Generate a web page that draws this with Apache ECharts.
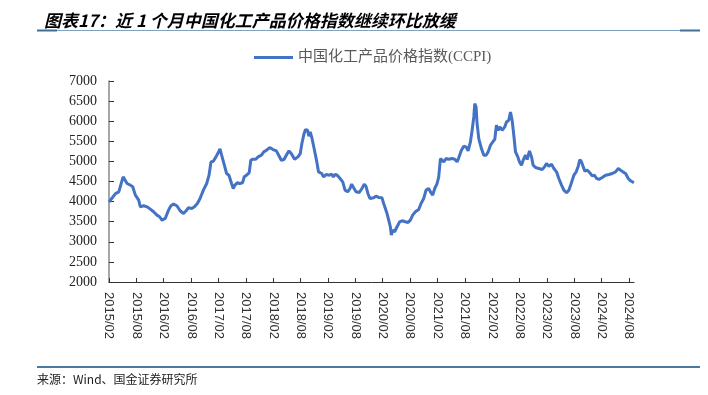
<!DOCTYPE html>
<html>
<head>
<meta charset="utf-8">
<script src="https://cdn.jsdelivr.net/npm/echarts@6/dist/echarts.min.js"></script>
<style>
html,body{margin:0;padding:0;background:#fff;}
#chart{width:708px;height:395px;}
</style>
</head>
<body>
<div id="chart"></div>
<script>
// Months elapsed since 2015/02 (x) and CCPI index values (y)
const monthOffsets = [
  0, 1.42, 2.15, 3.09, 3.96, 4.69, 5.2, 5.78, 6.51, 6.87, 7.6, 8.33, 9.05, 9.78,
  10.51, 11.09, 11.6, 12.33, 12.69, 13.05, 13.56, 14.15, 14.87, 15.6, 16.33, 16.91,
  17.42, 18.15, 18.73, 19.38, 19.96, 20.69, 21.42, 21.93, 22.36, 22.87, 23.45, 23.96,
  24.33, 24.69, 25.2, 25.78, 26.29, 26.87, 27.24, 27.6, 28.11, 28.69, 29.27, 29.64,
  30.15, 30.73, 31.09, 31.6, 32.18, 32.69, 33.42, 33.93, 34.51, 35.24, 35.96, 36.69,
  37.2, 37.78, 38.36, 38.87, 39.45, 39.96, 40.69, 41.42, 41.93, 42.29, 42.73, 43.09,
  43.53, 43.82, 44.11, 44.47, 45.05, 45.56, 45.93, 46.29, 46.65, 47.02, 47.6, 48.33,
  48.84, 49.2, 49.64, 50.15, 50.65, 51.24, 51.75, 52.33, 52.84, 53.2, 53.64, 54.15,
  54.87, 55.45, 55.96, 56.33, 56.76, 57.2, 57.51, 58.02, 58.54, 59.12, 59.85, 60.22,
  60.59, 60.95, 61.32, 61.68, 61.9, 62.19, 62.63, 63.15, 63.73, 64.24, 64.97, 65.56,
  66.07, 66.58, 67.17, 67.9, 68.41, 69.0, 69.51, 70.1, 70.46, 70.97, 71.41, 71.92,
  72.29, 72.66, 73.02, 73.39, 73.9, 74.48, 75.22, 75.8, 76.31, 76.68, 77.26, 77.78,
  78.29, 78.73, 79.24, 79.61, 79.98, 80.19, 80.48, 80.7, 81.07, 81.65, 82.17, 82.68,
  83.12, 83.63, 84.14, 84.58, 84.94, 85.31, 85.68, 86.19, 86.77, 87.14, 87.65, 88.02,
  88.38, 88.75, 89.12, 89.63, 89.99, 90.43, 90.8, 91.31, 91.68, 92.19, 92.63, 92.99,
  93.5, 94.24, 94.97, 95.48, 95.92, 96.43, 97.02, 97.53, 98.11, 98.62, 99.21, 99.72,
  100.31, 100.82, 101.33, 101.92, 102.43, 102.87, 103.24, 103.6, 103.97, 104.33, 104.84,
  105.36, 105.94, 106.45, 106.89, 107.4, 108.13, 108.87, 109.6, 110.33, 111.06, 111.65,
  112.16, 112.67, 113.26, 113.84, 114.35, 115.08
];
const ccpiValues = [
  3990, 4200, 4240, 4616, 4450, 4410, 4370, 4160, 4036, 3870, 3896, 3870, 3813, 3747,
  3664, 3623, 3540, 3581, 3623, 3788, 3896, 3937, 3896, 3772, 3705, 3772,
  3846, 3830, 3870, 3954, 4078, 4285, 4450, 4657, 4988, 5005, 5113, 5220,
  5311, 5154, 4947, 4699, 4657, 4450, 4326, 4409, 4467, 4450, 4467, 4616,
  4657, 4715, 5030, 5055, 5055, 5113, 5154, 5237, 5278, 5344, 5295, 5262,
  5154, 5030, 5047, 5154, 5262, 5196, 5055, 5113, 5196, 5444, 5676, 5792,
  5775, 5626, 5734, 5593, 5278, 4988, 4740, 4782, 4699, 4616, 4674, 4657,
  4682, 4616, 4682, 4641, 4575, 4492, 4285, 4244, 4326, 4434, 4343, 4244,
  4227, 4326, 4434, 4384, 4202, 4078, 4036, 4094, 4136, 4103, 4094, 3954,
  3830, 3705, 3540, 3374, 3167, 3291, 3250, 3374, 3498, 3523, 3498, 3482,
  3540, 3664, 3747, 3805, 3954, 4078, 4285, 4326, 4243, 4161, 4326, 4450,
  4616, 5071, 5113, 4988, 5071, 5055, 5071, 5055, 4988, 5088, 5278, 5377,
  5361, 5262, 5485, 5775, 6106, 6437, 6354, 5940, 5568, 5320, 5154, 5154,
  5237, 5402, 5485, 5551, 5899, 5775, 5858, 5775, 5858, 5982, 6023, 6230,
  6023, 5651, 5237, 5113, 4988, 4906, 5030, 5154, 5047, 5262, 5113, 4906,
  4848, 4823, 4798, 4864, 4947, 4881, 4930, 4823, 4740, 4575, 4409, 4285,
  4219, 4285, 4450, 4657, 4740, 4881, 5047, 4988, 4864, 4757, 4782,
  4724, 4641, 4657, 4575, 4550, 4600, 4657, 4674, 4699, 4740, 4823,
  4782, 4740, 4699, 4575, 4517, 4467
];
const tickLabels = [
  '2015/02','2015/08','2016/02','2016/08','2017/02','2017/08','2018/02','2018/08',
  '2019/02','2019/08','2020/02','2020/08','2021/02','2021/08','2022/02','2022/08',
  '2023/02','2023/08','2024/02','2024/08'
];
const seriesName = '中国化工产品价格指数(CCPI)';
const titleText = '图表17：近 1 个月中国化工产品价格指数继续环比放缓';
const sourceText = '来源：Wind、国金证券研究所';

const tickValues = tickLabels.map((_, i) => i * 6);
const lineData = monthOffsets.map((m, i) => [m, ccpiValues[i]]);

const chart = echarts.init(document.getElementById('chart'), null, {renderer: 'canvas'});
chart.setOption({
  animation: false,
  backgroundColor: '#fff',
  title: {
    text: titleText,
    left: 39, top: 7,
    textStyle: {
      fontFamily: '"Noto Sans CJK SC", sans-serif',
      fontSize: 17, fontWeight: 'bold', fontStyle: 'italic', color: '#000'
    }
  },
  legend: {
    left: 249, top: 45,
    icon: 'rect', itemWidth: 39, itemHeight: 3, itemGap: 10,
    textStyle: {
      fontFamily: '"Liberation Serif", "Noto Sans CJK SC", serif',
      fontSize: 15, color: '#595959'
    },
    data: [seriesName]
  },
  grid: {left: 109, top: 81, right: 74, bottom: 113},
  xAxis: {
    type: 'value', min: 0, max: 115.1,
    axisLine: {show: true, lineStyle: {color: '#333', width: 1}},
    axisTick: {show: true, inside: true, length: 4, customValues: tickValues, lineStyle: {color: '#333'}},
    axisLabel: {
      customValues: tickValues, rotate: -90, margin: 10,
      fontFamily: '"Liberation Sans", Arial, sans-serif', fontSize: 13, color: '#333',
      formatter: v => tickLabels[Math.round(v / 6)] || ''
    },
    splitLine: {show: false}
  },
  yAxis: {
    type: 'value', min: 2000, max: 7000, interval: 500,
    axisLine: {show: true, lineStyle: {color: '#888', width: 1.5}},
    axisTick: {show: true, inside: true, length: 5, lineStyle: {color: '#333'}},
    axisLabel: {
      margin: 12, fontFamily: '"Liberation Serif", "Times New Roman", serif',
      fontSize: 14, color: '#222',
      formatter: v => String(v)
    },
    splitLine: {show: false}
  },
  graphic: [
    {type: 'line', shape: {x1: 37, y1: 30.5, x2: 700, y2: 30.5}, style: {stroke: '#7da2bf', lineWidth: 1}},
    {type: 'line', shape: {x1: 37, y1: 30.5, x2: 57, y2: 30.5}, style: {stroke: '#3f6f96', lineWidth: 2}},
    {type: 'line', shape: {x1: 680, y1: 30.5, x2: 700, y2: 30.5}, style: {stroke: '#3f6f96', lineWidth: 2}},
    {type: 'line', shape: {x1: 37, y1: 367, x2: 700, y2: 367}, style: {stroke: '#4a7aa0', lineWidth: 2}},
    {type: 'text', left: 37, top: 373, style: {
      text: sourceText, fill: '#222',
      font: '12px "Noto Sans CJK SC", sans-serif'
    }}
  ],
  series: [{
    name: seriesName,
    type: 'line',
    data: lineData,
    showSymbol: false,
    symbol: 'none',
    lineStyle: {color: '#4472C4', width: 3},
    itemStyle: {color: '#4472C4'}
  }]
});
</script>
</body>
</html>
